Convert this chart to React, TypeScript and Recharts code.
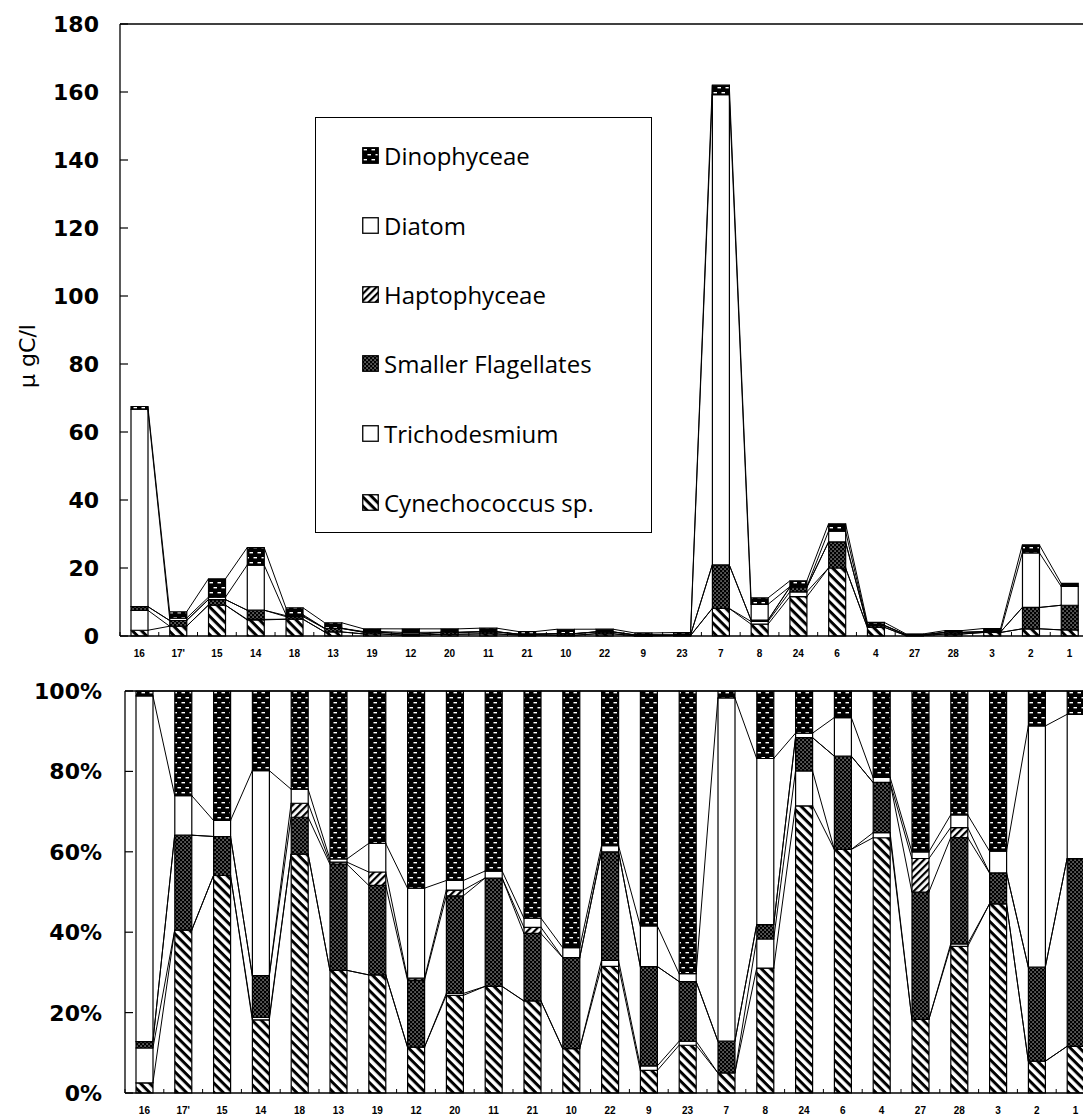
import React from "react";
import { ComposedChart, Bar, Line, XAxis, YAxis, Legend, ReferenceLine } from "recharts";

// stations in cruise order (x axis)
const stations = ["16", "17'", "15", "14", "18", "13", "19", "12", "20", "11", "21", "10", "22", "9", "23", "7", "8", "24", "6", "4", "27", "28", "3", "2", "1"];

// carbon biomass, ugC/l (stack order bottom -> top)
const cynechococcus = [1.69, 2.88, 9.09, 4.73, 4.94, 1.19, 0.62, 0.24, 0.51, 0.61, 0.3, 0.22, 0.63, 0.05, 0.12, 8.1, 3.48, 11.57, 20.0, 2.54, 0.11, 0.58, 1.04, 2.12, 1.8];
const trichodesmium = [5.87, 0, 0, 0.16, 0, 0, 0, 0, 0.01, 0, 0, 0, 0.03, 0.01, 0.01, 0, 0.81, 1.41, 0, 0.05, 0, 0.01, 0, 0, 0];
const smallerFlagellates = [1.08, 1.68, 1.63, 2.7, 0.76, 1.03, 0.47, 0.35, 0.51, 0.62, 0.22, 0.45, 0.54, 0.22, 0.15, 12.8, 0.4, 1.34, 7.66, 0.5, 0.19, 0.42, 0.17, 6.27, 7.24];
const haptophyceae = [0, 0, 0, 0, 0.29, 0.02, 0.07, 0.01, 0.03, 0, 0.02, 0, 0, 0, 0, 0, 0, 0, 0, 0, 0.05, 0.04, 0, 0, 0];
const diatom = [58.05, 0.7, 0.67, 13.26, 0.29, 0.03, 0.15, 0.47, 0.05, 0.04, 0.03, 0.05, 0.03, 0.09, 0.02, 138.35, 4.63, 0.18, 3.17, 0.05, 0.01, 0.05, 0.12, 16.08, 5.56];
const dinophyceae = [0.81, 1.85, 5.41, 5.15, 2.03, 1.63, 0.8, 1.03, 0.99, 1.03, 0.74, 1.27, 0.77, 0.52, 0.71, 2.75, 1.88, 1.7, 2.18, 0.86, 0.24, 0.49, 0.88, 2.33, 0.9];

const seriesKeys = ["cyn", "tri", "smf", "hap", "dia", "din"];
const seriesNames = ["Cynechococcus sp.", "Trichodesmium", "Smaller Flagellates", "Haptophyceae", "Diatom", "Dinophyceae"];
const seriesValues = [cynechococcus, trichodesmium, smallerFlagellates, haptophyceae, diatom, dinophyceae];
const seriesFills = ["url(#pCyn)", "#fff", "url(#pSmf)", "url(#pHap)", "#fff", "url(#pDin)"];

const absTicks = [0, 20, 40, 60, 80, 100, 120, 140, 160, 180];
const pctTicks = [0, 0.2, 0.4, 0.6, 0.8, 1];

// rows for recharts, plus cumulative tops for the series lines
const rows = stations.map((name, i) => {
  const row: any = { name };
  const total = seriesValues.reduce((s, arr) => s + arr[i], 0);
  let cum = 0;
  seriesValues.forEach((arr, k) => {
    row[seriesKeys[k]] = arr[i];
    cum += arr[i];
    row["c" + k] = cum;
    row["p" + k] = cum / total;
  });
  return row;
});

const BAR_W = 17;
const tickFont = "'DejaVu Sans', sans-serif";

function XTick(props: any) {
  const { x, y, payload } = props;
  const off = payload && payload.offset ? payload.offset : 0;
  return (
    <g>
      {off ? <line x1={x - off} x2={x - off} y1={y} y2={y - 4} stroke="#000" strokeWidth={1} /> : null}
      <text x={x} y={y + 21} textAnchor="middle" fontSize={10} fontWeight="bold" fontFamily="'Liberation Sans', Arial, sans-serif" fill="#000">
        {payload.value}
      </text>
    </g>
  );
}

function makeYTick(fmt: (v: number) => string, gap: number) {
  return (props: any) => {
    const { x, y, payload } = props;
    return (
      <g>
        <line x1={x} x2={x + 8} y1={y} y2={y} stroke="#000" strokeWidth={1.2} />
        <text x={x - gap} y={y} dy="0.36em" textAnchor="end" fontSize={22} fontWeight="bold" fontFamily={tickFont} fill="#000">
          {fmt(payload.value)}
        </text>
      </g>
    );
  };
}

// excel-like series lines: from right edge of one bar to left edge of the next
function seriesDot(props: any) {
  const { cx, cy, index, points } = props;
  const next = points ? points[index + 1] : null;
  if (!next || cx == null || next.x == null || next.y == null) return <g key={"e" + index} />;
  return <line key={"s" + index} x1={cx + BAR_W / 2} y1={cy} x2={next.x - BAR_W / 2} y2={next.y} stroke="#000" strokeWidth={1} />;
}

function LegendBox() {
  const items = seriesNames.map((n, k) => ({ name: n, fill: seriesFills[k] })).reverse();
  return (
    <div style={{ boxSizing: "border-box", width: 337, height: 416, border: "1.3px solid #000", background: "#fff", paddingTop: 3, paddingLeft: 46, fontFamily: "'Open Sans', sans-serif", fontSize: 24, color: "#000" }}>
      {items.map((it) => (
        <div key={it.name} style={{ height: 69.4, display: "flex", alignItems: "center" }}>
          <svg width={17} height={17} style={{ marginRight: 5, flex: "none" }}>
            <rect x={0.75} y={0.75} width={15.5} height={15.5} fill={it.fill} stroke="#000" strokeWidth={1.3} />
          </svg>
          <span style={{ whiteSpace: "nowrap" }}>{it.name}</span>
        </div>
      ))}
    </div>
  );
}

function Patterns() {
  return (
    <svg width={0} height={0} style={{ position: "absolute" }}>
      <defs>
        <pattern id="pDin" patternUnits="userSpaceOnUse" width="8" height="10">
          <rect width="8" height="10" fill="#000" />
          <rect x="1.5" y="2" width="3.5" height="1.4" fill="#fff" />
          <rect x="5.5" y="7" width="2.5" height="1.4" fill="#fff" />
          <rect x="0" y="7" width="1" height="1.4" fill="#fff" />
        </pattern>
        <pattern id="pSmf" patternUnits="userSpaceOnUse" width="4" height="4">
          <rect width="4" height="4" fill="#000" />
          <rect x="0.5" y="0.5" width="1.1" height="1.1" fill="#fff" />
          <rect x="2.5" y="2.5" width="1.1" height="1.1" fill="#fff" />
        </pattern>
        <pattern id="pCyn" patternUnits="userSpaceOnUse" width="6.5" height="6.5" patternTransform="rotate(45)">
          <rect width="6.5" height="6.5" fill="#fff" />
          <rect width="6.5" height="3" fill="#000" />
        </pattern>
        <pattern id="pHap" patternUnits="userSpaceOnUse" width="5" height="5" patternTransform="rotate(-45)">
          <rect width="5" height="5" fill="#fff" />
          <rect width="5" height="2.2" fill="#000" />
        </pattern>
      </defs>
    </svg>
  );
}

function renderSeries(prefix: string) {
  const bars = seriesKeys.map((key, k) => (
    <Bar key={key} dataKey={key} name={seriesNames[k]} stackId="a" fill={seriesFills[k]} stroke="#000" strokeWidth={1.2} barSize={BAR_W} isAnimationActive={false} />
  ));
  const lines = seriesKeys.map((key, k) => (
    <Line key={prefix + k} dataKey={prefix + k} type="linear" stroke="none" dot={seriesDot} activeDot={false} legendType="none" isAnimationActive={false} />
  ));
  return [...bars, ...lines];
}

export default function App() {
  return (
    <div style={{ position: "absolute", left: 0, top: 0, width: 1083, height: 1118, overflow: "hidden", background: "#fff" }}>
      <Patterns />
      <div style={{ position: "absolute", left: 0, top: 0 }}>
        <ComposedChart width={1089} height={665} data={rows} margin={{ top: 24, right: 0, left: 0, bottom: 9 }}>
          <XAxis dataKey="name" interval={0} height={20} tickSize={0} tickMargin={0} tickLine={false} axisLine={{ stroke: "#000", strokeWidth: 1.3 }} tick={<XTick />} />
          <YAxis
            type="number"
            domain={[0, 180]}
            ticks={absTicks}
            interval={0}
            width={120}
            tickSize={0}
            tickMargin={0}
            tickLine={false}
            axisLine={{ stroke: "#000", strokeWidth: 1.3 }}
            tick={makeYTick((v) => String(v), 21)}
            label={{
              content: (p: any) => {
                const vb = p.viewBox || { x: 0, y: 24, height: 612 };
                const cx = vb.x + 27;
                const cy = vb.y + vb.height / 2 + 26;
                return (
                  <text x={cx} y={cy} transform={`rotate(-90 ${cx} ${cy})`} textAnchor="middle" dominantBaseline="central" fontSize={22} fontFamily={tickFont} fill="#000">
                    μ gC/l
                  </text>
                );
              },
            }}
          />
          <ReferenceLine y={180} stroke="#000" strokeWidth={1.3} />
          {renderSeries("c")}
          <Legend layout="vertical" align="center" verticalAlign="middle" wrapperStyle={{ left: 315, top: 117, width: 337, height: 416 }} content={<LegendBox />} />
        </ComposedChart>
      </div>
      <div style={{ position: "absolute", left: 0, top: 665 }}>
        <ComposedChart width={1095} height={453} data={rows} stackOffset="expand" margin={{ top: 26, right: 0, left: 0, bottom: 5 }}>
          <XAxis dataKey="name" interval={0} height={20} tickSize={0} tickMargin={0} tickLine={false} axisLine={{ stroke: "#000", strokeWidth: 1.3 }} tick={<XTick />} />
          <YAxis
            type="number"
            domain={[0, 1]}
            ticks={pctTicks}
            interval={0}
            width={125}
            tickSize={0}
            tickMargin={0}
            tickLine={false}
            axisLine={{ stroke: "#000", strokeWidth: 1.3 }}
            tick={makeYTick((v) => Math.round(v * 100) + "%", 23)}
          />
          <ReferenceLine y={1} stroke="#000" strokeWidth={1.3} />
          {renderSeries("p")}
        </ComposedChart>
      </div>
    </div>
  );
}
